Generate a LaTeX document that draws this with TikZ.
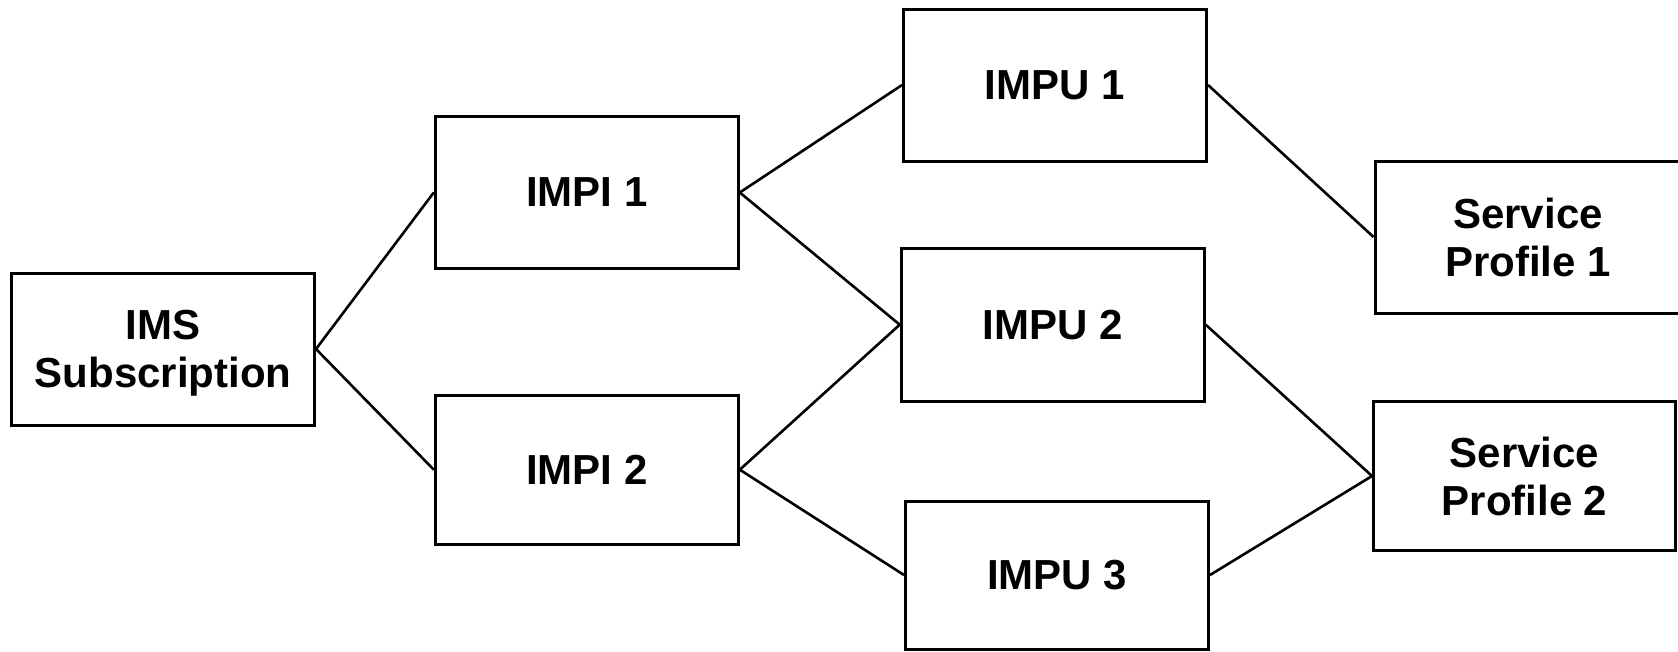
\documentclass[tikz,border=0pt]{standalone}
\usepackage{fontspec}
\setmainfont{Liberation Sans}
\begin{document}
\begin{tikzpicture}[x=1pt,y=-1pt,
  box/.style={draw=black, line width=3pt, rectangle, inner sep=0pt, align=center,
    minimum width=303pt, minimum height=152pt,
    font=\bfseries\fontsize{42}{48}\selectfont},
  link/.style={draw=black, line width=2.6pt}]
\useasboundingbox (0,0) rectangle (1678,651);
\node[box] (ims)   at (163,349)    {IMS\\Subscri\smash{p}tion};
\node[box] (impi1) at (586.8,192.5) {IMPI 1};
\node[box, minimum height=149pt] (impi2) at (586.8,469.7) {IMPI 2};
\node[box] (impu1) at (1055,85)    {IMPU 1};
\node[box, minimum height=153pt] (impu2) at (1052.7,324.7) {IMPU 2};
\node[box, minimum height=148pt] (impu3) at (1057,575) {IMPU 3};
\node[box, minimum width=306pt] (sp1) at (1528,237) {Service\\Profile 1};
\node[box, minimum width=302pt, minimum height=149pt] (sp2) at (1524.5,476) {Service\\Profile 2};
\draw[link] (ims.east) -- (impi1.west);
\draw[link] (ims.east) -- (impi2.west);
\draw[link] (impi1.east) -- (impu1.west);
\draw[link] (impi1.east) -- (impu2.west);
\draw[link] (impi2.east) -- (impu2.west);
\draw[link] (impi2.east) -- (impu3.west);
\draw[link] (impu1.east) -- (sp1.west);
\draw[link] (impu2.east) -- (sp2.west);
\draw[link] (impu3.east) -- (sp2.west);
\end{tikzpicture}
\end{document}
